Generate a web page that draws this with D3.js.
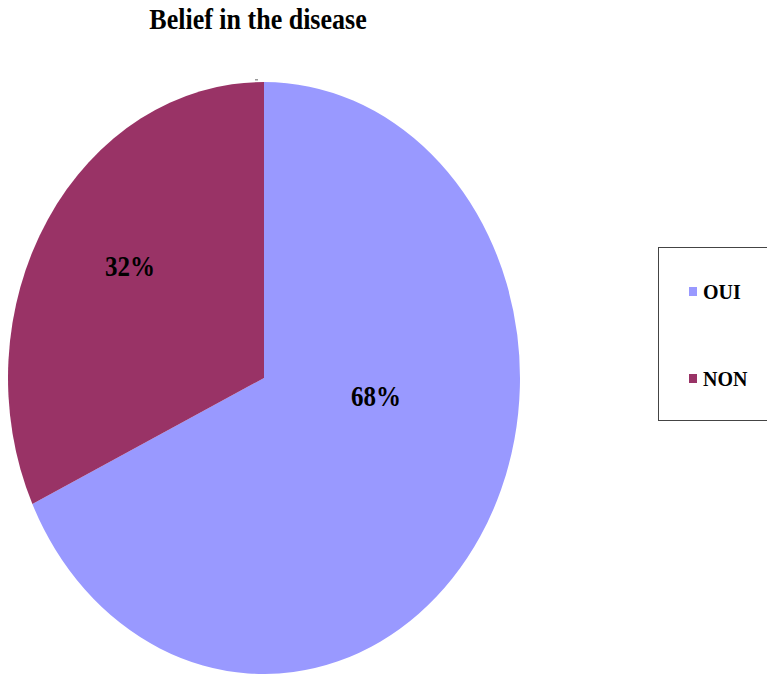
<!DOCTYPE html>
<html><head><meta charset="utf-8">
<script src="https://cdn.jsdelivr.net/npm/d3@7"></script>
<style>body{margin:0;background:#fff}svg{display:block}</style>
</head><body>
<script>
const categories = ["OUI", "NON"];
const values = [68, 32];
const colors = ["#9999FF", "#993366"];
const title = "Belief in the disease";

const W = 767, H = 674;
const svg = d3.select("body").append("svg").attr("width", W).attr("height", H);
const font = "'Liberation Serif','Times New Roman',serif";

svg.append("text").attr("transform", "translate(258,29) scale(1,1.1)").attr("text-anchor", "middle")
  .attr("font-family", font).attr("font-weight", "bold").attr("font-size", 26)
  .text(title);

const cx = 264, cy = 378, rx = 256, ry = 296;
const data = categories.map((c, i) => ({cat: c, value: values[i], color: colors[i]}));
const pie = d3.pie().sort(null).value(d => d.value);
const arcs = pie(data);
const arc = d3.arc().innerRadius(0).outerRadius(rx);
const g = svg.append("g").attr("transform", `translate(${cx},${cy}) scale(1,${ry/rx})`);
g.selectAll("path").data(arcs).enter().append("path")
  .attr("d", arc).attr("fill", d => d.data.color);

// small leader tick above the pie
svg.append("rect").attr("x", 255).attr("y", 79).attr("width", 3).attr("height", 1.5).attr("fill", "#9a9a9a");

const labelPos = [[376, 406], [130, 276]];
svg.selectAll("text.lbl").data(arcs).enter().append("text").attr("class", "lbl")
  .attr("transform", (d, i) => `translate(${labelPos[i][0]},${labelPos[i][1]}) scale(1,1.15)`)
  .attr("text-anchor", "middle").attr("font-family", font).attr("font-weight", "bold")
  .attr("font-size", 25).text(d => Math.round(d.value) + "%");

// legend
svg.append("rect").attr("x", 658.5).attr("y", 247.5).attr("width", 120).attr("height", 173)
  .attr("fill", "#fff").attr("stroke", "#444").attr("stroke-width", 1);
const ly = [292, 379];
const lg = svg.selectAll("g.leg").data(data).enter().append("g").attr("class", "leg")
  .attr("transform", (d, i) => `translate(689,${ly[i]})`);
lg.append("rect").attr("x", 0).attr("y", -5).attr("width", 8).attr("height", 9).attr("fill", d => d.color);
lg.append("text").attr("transform", "translate(14,7) scale(1,1.08)").attr("font-family", font).attr("font-weight", "bold")
  .attr("font-size", 20).text(d => d.cat);
</script>
</body></html>
